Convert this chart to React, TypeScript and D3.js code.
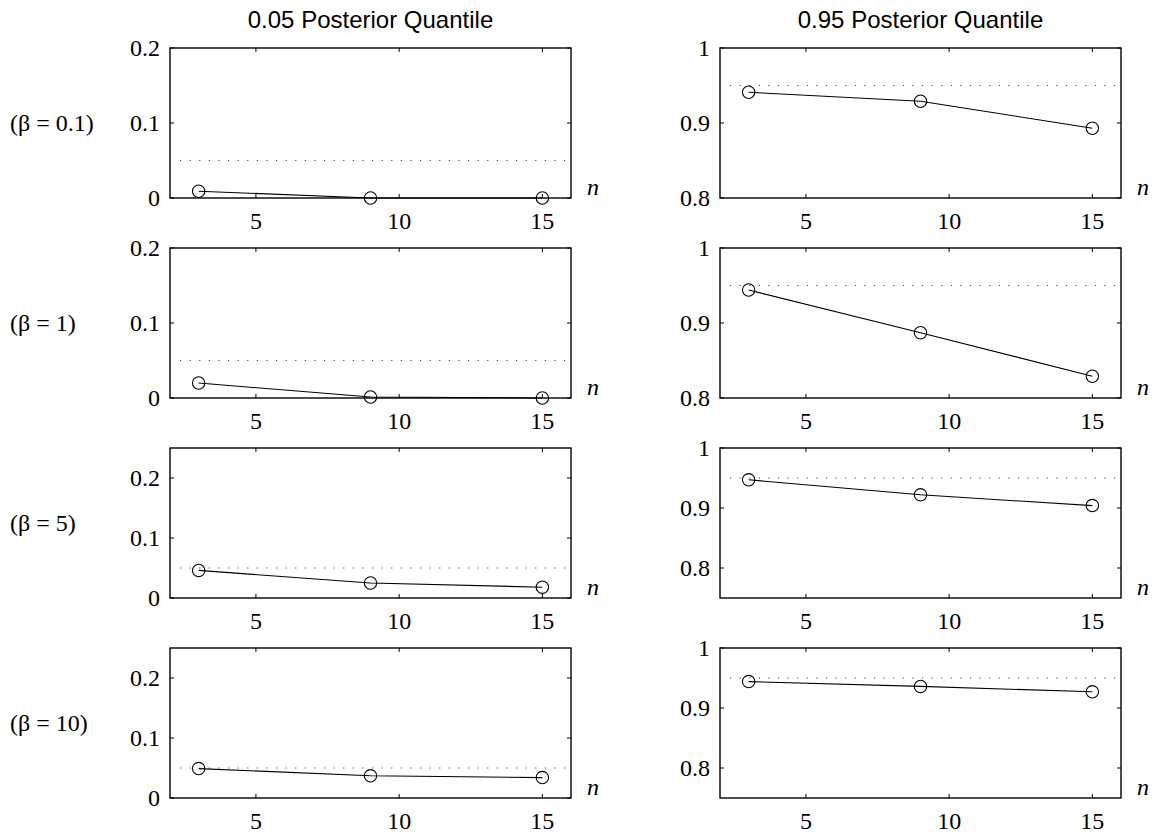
import React from "react";
import * as d3 from "d3";

// Sample sizes at which the coverage was evaluated
const nValues = [3, 9, 15];
const xTicks = [5, 10, 15];
const xDomain: [number, number] = [2, 16];

// Prior settings (one row each)
const betaLabels = ["(β = 0.1)", "(β = 1)", "(β = 5)", "(β = 10)"];

// Column headers and nominal levels
const columnTitles = ["0.05 Posterior Quantile", "0.95 Posterior Quantile"];
const nominalLevels = [0.05, 0.95];

// Empirical coverage of the lower (0.05) quantile, per row
const lowerQuantile = [
  [0.009, 0.0, 0.0],
  [0.02, 0.0013, 0.0],
  [0.046, 0.025, 0.018],
  [0.049, 0.037, 0.034],
];

// Empirical coverage of the upper (0.95) quantile, per row
const upperQuantile = [
  [0.941, 0.929, 0.893],
  [0.944, 0.887, 0.829],
  [0.947, 0.922, 0.904],
  [0.944, 0.936, 0.927],
];

// Y-axis ranges and tick values
const lowerDomains: [number, number][] = [
  [0, 0.2],
  [0, 0.2],
  [0, 0.25],
  [0, 0.25],
];
const upperDomains: [number, number][] = [
  [0.8, 1],
  [0.8, 1],
  [0.75, 1],
  [0.75, 1],
];
const lowerTicks = [0, 0.1, 0.2];
const upperTicks = [0.8, 0.9, 1];

const W = 1157;
const H = 835;
const colLeft = [170, 720];
const panelW = 401;
const panelH = 150;
const rowTop = [48, 248, 448, 648];
const tickLen = 4;

const serif = "'Liberation Serif', 'Times New Roman', serif";
const sans = "'Liberation Sans', Arial, sans-serif";
const labelSize = 24;

const fmt = (v: number) => d3.format("~g")(+v.toFixed(3));

type PanelProps = {
  x0: number;
  y0: number;
  values: number[];
  domain: [number, number];
  ticks: number[];
  level: number;
};

function Panel({ x0, y0, values, domain, ticks, level }: PanelProps) {
  const xs = d3.scaleLinear().domain(xDomain).range([x0, x0 + panelW]);
  const ys = d3.scaleLinear().domain(domain).range([y0 + panelH, y0]);
  const pts = nValues.map((n, i) => [xs(n), ys(values[i])] as [number, number]);
  const line = d3.line()(pts) || "";
  const right = x0 + panelW;
  const bottom = y0 + panelH;
  return (
    <g>
      {/* nominal level reference */}
      <line
        x1={xs(xDomain[0]) + 10}
        x2={xs(xDomain[1]) - 4}
        y1={ys(level)}
        y2={ys(level)}
        stroke="#444"
        strokeWidth={1}
        strokeDasharray="1.2 8.4"
      />
      <path d={line} fill="none" stroke="#000" strokeWidth={1.1} />
      {pts.map(([px, py], i) => (
        <circle key={i} cx={px} cy={py} r={6.2} fill="none" stroke="#000" strokeWidth={1.1} />
      ))}
      {/* axes box */}
      <rect x={x0} y={y0} width={panelW} height={panelH} fill="none" stroke="#000" strokeWidth={1.4} />
      {xTicks.map((t) => (
        <g key={`x${t}`}>
          <line x1={xs(t)} x2={xs(t)} y1={bottom} y2={bottom - tickLen} stroke="#000" strokeWidth={1} />
          <line x1={xs(t)} x2={xs(t)} y1={y0} y2={y0 + tickLen} stroke="#000" strokeWidth={1} />
          <text
            x={xs(t)}
            y={bottom + 31}
            textAnchor="middle"
            fontFamily={serif}
            fontSize={labelSize}
            fill="#000"
          >
            {t}
          </text>
        </g>
      ))}
      {ticks.map((t) => (
        <g key={`y${t}`}>
          <line x1={x0} x2={x0 + tickLen} y1={ys(t)} y2={ys(t)} stroke="#000" strokeWidth={1} />
          <line x1={right} x2={right - tickLen} y1={ys(t)} y2={ys(t)} stroke="#000" strokeWidth={1} />
          <text
            x={x0 - 10}
            y={ys(t)}
            dy="0.35em"
            textAnchor="end"
            fontFamily={serif}
            fontSize={labelSize}
            fill="#000"
          >
            {fmt(t)}
          </text>
        </g>
      ))}
      <text
        x={right + 16}
        y={bottom - 3}
        fontFamily={serif}
        fontStyle="italic"
        fontSize={labelSize}
        fill="#000"
      >
        n
      </text>
    </g>
  );
}

export default function App() {
  return (
    <div style={{ position: "absolute", left: 0, top: 0 }}>
      <svg width={W} height={H} style={{ display: "block", background: "#fff" }}>
        {columnTitles.map((t, c) => (
          <text
            key={t}
            x={colLeft[c] + panelW / 2}
            y={28}
            textAnchor="middle"
            fontFamily={sans}
            fontSize={24}
            fill="#000"
          >
            {t}
          </text>
        ))}
        {betaLabels.map((lab, r) => (
          <text
            key={lab}
            x={10}
            y={rowTop[r] + panelH / 2}
            dy="0.35em"
            fontFamily={serif}
            fontSize={labelSize}
            fill="#000"
          >
            {lab}
          </text>
        ))}
        {rowTop.map((y0, r) => (
          <g key={r}>
            <Panel
              x0={colLeft[0]}
              y0={y0}
              values={lowerQuantile[r]}
              domain={lowerDomains[r]}
              ticks={lowerTicks}
              level={nominalLevels[0]}
            />
            <Panel
              x0={colLeft[1]}
              y0={y0}
              values={upperQuantile[r]}
              domain={upperDomains[r]}
              ticks={upperTicks}
              level={nominalLevels[1]}
            />
          </g>
        ))}
      </svg>
    </div>
  );
}
